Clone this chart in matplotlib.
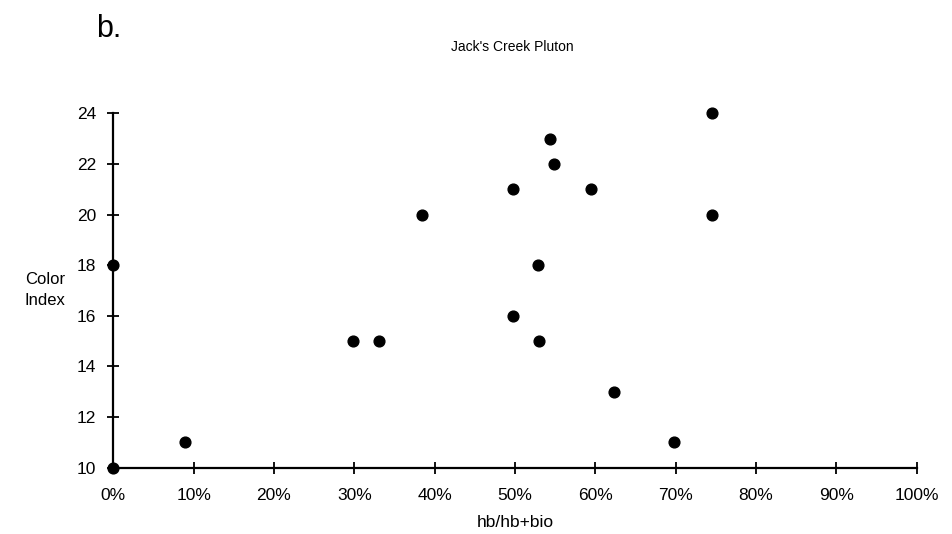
import matplotlib.pyplot as plt
import numpy as np

plt.rcParams['font.family'] = ['Liberation Sans', 'DejaVu Sans']

# données
hb_frac = [0.0, 0.0, 8.9, 29.8, 33.1, 38.4, 49.7, 54.4, 54.9, 59.5,
           52.9, 49.8, 53.0, 62.3, 69.8, 74.5, 74.5]
color_index = [10, 18, 11, 15, 15, 20, 21, 23, 22, 21,
               18, 16, 15, 13, 11, 24, 20]
x_ticks = np.arange(0, 101, 10)
y_ticks = np.arange(10, 25, 2)

fig = plt.figure(figsize=(9.52, 5.34), dpi=100)
ax = fig.add_axes([0.119, 0.124, 0.844, 0.664])

ax.scatter(hb_frac, color_index, s=60, color='black', zorder=3, clip_on=False)

ax.set_xlim(0, 100)
ax.set_ylim(10, 24)
ax.set_xticks(x_ticks)
ax.set_xticklabels([f"{v}%" for v in x_ticks])
ax.set_yticks(y_ticks)

for s in ['top', 'right']:
    ax.spines[s].set_visible(False)
ax.spines['left'].set_linewidth(1.6)
ax.spines['bottom'].set_linewidth(1.6)
ax.tick_params(direction='inout', length=9, width=1.3, labelsize=12.5)
ax.tick_params(axis='x', pad=10)
ax.tick_params(axis='y', pad=8)

ax.set_xlabel("hb/hb+bio", fontsize=12.5, labelpad=9)
ax.text(-0.085, 0.5, "Color\nIndex", transform=ax.transAxes, fontsize=12,
        ha='center', va='center', linespacing=1.5)
fig.text(0.538, 0.912, "Jack's Creek Pluton", fontsize=10, ha='center', va='center')
fig.text(0.101, 0.946, "b.", fontsize=22, ha='left', va='center')

plt.savefig("out.png", dpi=100)
